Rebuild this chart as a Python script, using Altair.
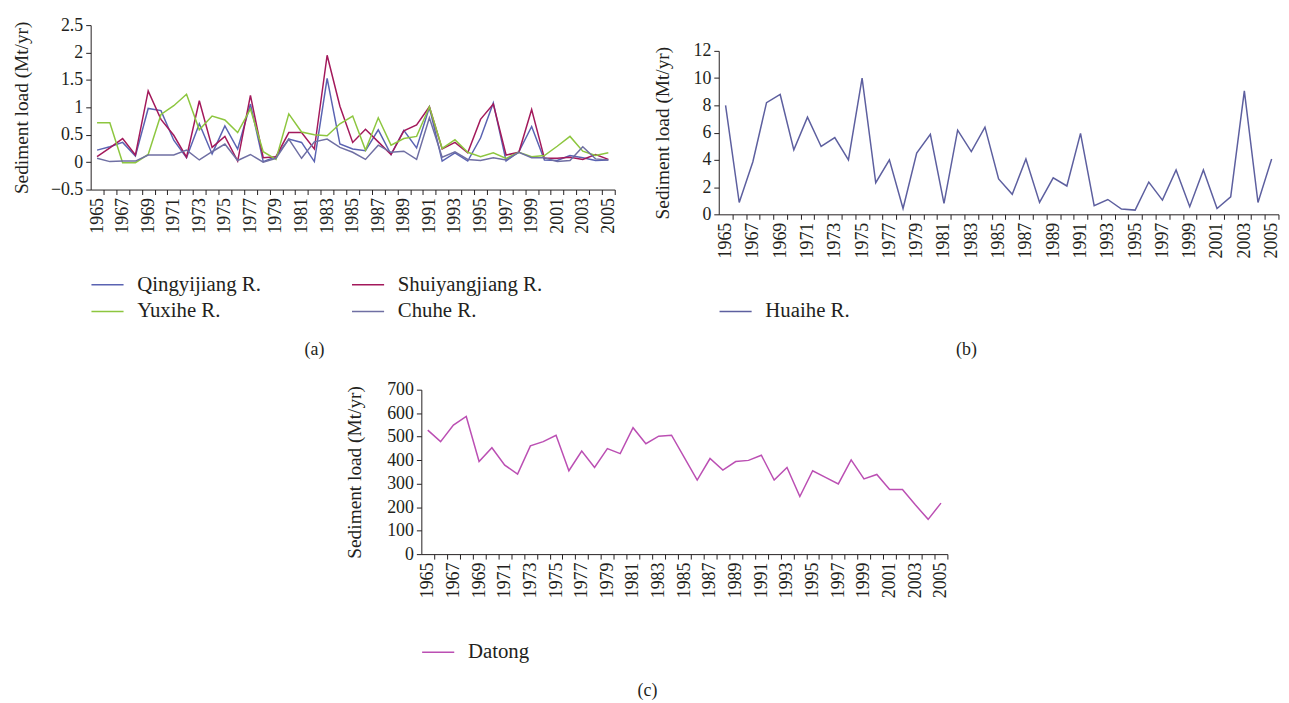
import altair as alt
import pandas as pd

years = list(range(1965, 2006))

qingyijiang = [0.22, 0.28, 0.36, 0.11, 0.98, 0.94, 0.40, 0.08, 0.70, 0.15,
               0.66, 0.24, 1.06, 0.01, 0.10, 0.42, 0.36, 0.01, 1.53, 0.33,
               0.24, 0.21, 0.59, 0.14, 0.58, 0.26, 1.00, 0.02, 0.17, 0.02,
               0.44, 1.08, 0.02, 0.19, 0.65, 0.04, 0.03, 0.12, 0.08, 0.03, 0.04]
shuiyangjiang = [0.10, 0.26, 0.43, 0.13, 1.30, 0.78, 0.49, 0.09, 1.12, 0.27,
                 0.47, 0.02, 1.22, 0.08, 0.10, 0.54, 0.54, 0.24, 1.95, 1.02,
                 0.36, 0.60, 0.37, 0.14, 0.57, 0.68, 1.01, 0.24, 0.36, 0.17,
                 0.78, 1.06, 0.13, 0.18, 0.96, 0.07, 0.07, 0.09, 0.05, 0.14, 0.05]
yuxihe = [0.72, 0.72, -0.01, -0.01, 0.14, 0.87, 1.03, 1.24, 0.59, 0.84,
          0.77, 0.54, 0.97, 0.19, 0.05, 0.88, 0.55, 0.50, 0.48, 0.70,
          0.84, 0.22, 0.81, 0.31, 0.43, 0.47, 1.01, 0.25, 0.41, 0.18,
          0.10, 0.17, 0.07, 0.18, 0.10, 0.12, 0.29, 0.47, 0.20, 0.12, 0.17]
chuhe = [0.07, 0.01, 0.02, 0.02, 0.13, 0.13, 0.13, 0.22, 0.04, 0.19,
         0.33, 0.03, 0.14, 0.00, 0.07, 0.42, 0.07, 0.37, 0.42, 0.27,
         0.18, 0.05, 0.31, 0.18, 0.20, 0.05, 0.81, 0.09, 0.19, 0.05,
         0.03, 0.08, 0.04, 0.18, 0.08, 0.08, 0.01, 0.03, 0.28, 0.06, 0.04]
huaihe = [8.0, 0.87, 3.86, 8.2, 8.8, 4.73, 7.13, 4.98, 5.63, 4.0,
          10.0, 2.32, 4.0, 0.43, 4.5, 5.87, 0.8, 6.18, 4.61, 6.4,
          2.6, 1.47, 4.06, 0.87, 2.68, 2.08, 5.94, 0.63, 1.09, 0.39,
          0.31, 2.37, 1.04, 3.26, 0.56, 3.26, 0.43, 1.28, 9.06, 0.87, 4.06]
datong = [528, 479, 549, 586, 394, 453, 379, 341, 461, 479,
          506, 355, 439, 369, 449, 428, 538, 470, 502, 506,
          411, 315, 407, 358, 394, 399, 421, 315, 369, 245,
          355, 327, 299, 401, 320, 339, 275, 275, 210, 148, 217]

names_a = ["Qingyijiang R.", "Shuiyangjiang R.", "Yuxihe R.", "Chuhe R."]
colors_a = ["#5a63b2", "#a3195b", "#8dc63f", "#6f6fa3"]
names_b = ["Huaihe R."]
colors_b = ["#5d5f9f"]
names_c = ["Datong"]
colors_c = ["#bb4fb3"]

y_ticks_a = [-0.5, 0, 0.5, 1, 1.5, 2, 2.5]
y_ticks_b = [0, 2, 4, 6, 8, 10, 12]
y_ticks_c = [0, 100, 200, 300, 400, 500, 600, 700]
y_title = "Sediment load (Mt/yr)"

FONT = "Liberation Serif"
INK = "#231f20"
FS = 18

dfa = pd.DataFrame({
    "year": years * 4,
    "load": qingyijiang + shuiyangjiang + yuxihe + chuhe,
    "river": sum([[n] * len(years) for n in names_a], []),
})
dfb = pd.DataFrame({"year": years, "load": huaihe, "river": names_b * len(years)})
dfc = pd.DataFrame({"year": years, "load": datong, "river": names_c * len(years)})


def x_enc(step):
    return alt.X(
        "year:Q",
        scale=alt.Scale(domain=[1964.5, 2005.5], nice=False, zero=False),
        axis=alt.Axis(
            values=years, format="d",
            labelExpr="datum.value % 2 == 1 ? datum.label : ''",
            labelAngle=270, tickOffset=step / 2, labelOffset=-step / 2,
            grid=False, title=None, tickSize=5, labelPadding=3,
            labelOverlap=False, labelFlush=False, labelBound=False,
        ),
    )


def y_enc(domain, ticks, fmt, tpad):
    return alt.Y(
        "load:Q",
        scale=alt.Scale(domain=domain, nice=False, zero=False),
        axis=alt.Axis(values=ticks, format=fmt, title=y_title, grid=False,
                      tickSize=5, labelPadding=3, titlePadding=tpad),
    )


def legend(cols, col_pad, ly):
    return alt.Legend(
        orient="none", legendX=0, legendY=ly, columns=cols, direction="horizontal",
        columnPadding=col_pad, rowPadding=0, title=None,
        symbolType="stroke", symbolSize=1050, symbolStrokeWidth=1.5,
        labelFont=FONT, labelFontSize=21, labelColor=INK, labelOffset=13,
        padding=0, offset=0,
    )


def caption(text, off):
    return alt.TitleParams(text, orient="bottom", anchor="middle", frame="bounds",
                           font=FONT, fontSize=18, fontWeight="normal", color=INK,
                           offset=off)


a = alt.Chart(dfa).mark_line(strokeWidth=1.5).encode(
    x=x_enc(12.9),
    y=y_enc([-0.5, 2.5], y_ticks_a, "~g", 19),
    color=alt.Color("river:N", scale=alt.Scale(domain=names_a, range=colors_a),
                    sort=names_a, legend=legend(2, 88, 245)),
).properties(width=529, height=166, title=caption("(a)", 20))

b = alt.Chart(dfb).mark_line(strokeWidth=1.5).encode(
    x=x_enc(13.77),
    y=y_enc([0, 12], y_ticks_b, "d", 21),
    color=alt.Color("river:N", scale=alt.Scale(domain=names_b, range=colors_b),
                    legend=legend(1, 10, 272)),
).properties(width=565, height=165, title=caption("(b)", 84))

spacer = alt.Chart(pd.DataFrame({"v": [0]})).mark_point(opacity=0, size=1).encode(
    x=alt.X("v:Q", axis=None), y=alt.Y("v:Q", axis=None)
).properties(width=10, height=17)

b_col = alt.vconcat(spacer, b, spacing=0)

c = alt.Chart(dfc).mark_line(strokeWidth=1.5).encode(
    x=x_enc(12.95),
    y=y_enc([0, 700], y_ticks_c, "d", 22),
    color=alt.Color("river:N", scale=alt.Scale(domain=names_c, range=colors_c),
                    legend=legend(1, 10, 248)),
).properties(width=531, height=166, title=caption("(c)", 20))

row1 = alt.hconcat(a, b_col, spacing=35).resolve_scale(color="independent")

chart = alt.vconcat(row1, c, spacing=22, center=True).resolve_scale(
    color="independent"
).properties(
    padding={"left": 3, "top": 5, "right": 0, "bottom": 0}
).configure_view(stroke=None).configure_axis(
    labelFont=FONT, labelFontSize=FS, labelColor=INK,
    titleFont=FONT, titleFontSize=19.5, titleFontWeight="normal", titleColor=INK,
    domainColor=INK, tickColor=INK, domainWidth=1, tickWidth=1,
)

chart.save("out.html", embed_options={"renderer": "svg", "actions": False})
